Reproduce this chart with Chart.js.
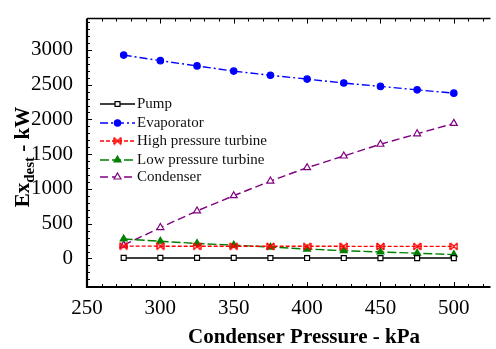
<!DOCTYPE html>
<html><head><meta charset="utf-8">
<script src="https://cdn.jsdelivr.net/npm/chart.js@4"></script>
<style>html,body{margin:0;padding:0;background:#fff}#wrap{width:496px;height:349px}</style>
</head><body><div id="wrap"><canvas id="c" width="496" height="349"></canvas></div>
<script>
const pressure = [275,300,325,350,375,400,425,450,475,500];
const pump = [8,8,8,8,7,7,7,6,6,6];
const evaporator = [2925,2845,2770,2695,2635,2580,2523,2475,2425,2378];
const hpTurbine = [178,177,176,176,175,175,175,174,174,174];
const lpTurbine = [281,248,216,192,164,136,112,94,76,56];
const condenser = [192,445,684,903,1114,1306,1474,1643,1793,1943];
const xTicks = [250,300,350,400,450,500];
const yTicks = [0,500,1000,1500,2000,2500,3000];
const seriesNames = ['Pump','Evaporator','High pressure turbine','Low pressure turbine','Condenser'];

const serif = "'Liberation Serif','DejaVu Serif',serif";
const pts = arr => pressure.map((x,i)=>({x, y: arr[i]}));

// bow-tie marker for the high pressure turbine
const bowtie = document.createElement('canvas');
bowtie.width = 9; bowtie.height = 9;
(() => {
  const c = bowtie.getContext('2d');
  c.strokeStyle = '#ff0000'; c.lineWidth = 1.4;
  c.beginPath();
  c.moveTo(1,1); c.lineTo(8,8); c.moveTo(8,1); c.lineTo(1,8);
  c.moveTo(1,1); c.lineTo(1,8); c.moveTo(8,1); c.lineTo(8,8);
  c.stroke();
})();

const styles = [
  {color:'#000000', dash:[], ps:'rect', r:3.5, fill:'#ffffff', bw:1.2},
  {color:'#0000ff', dash:[8,3,2,3], ps:'circle', r:3.2, fill:'#0000ff', bw:1.2},
  {color:'#ff0000', dash:[4,2], ps:bowtie, r:4, fill:'#ff0000', bw:1.5},
  {color:'#008000', dash:[9,3], ps:'triangle', r:4, fill:'#008000', bw:1.2},
  {color:'#800080', dash:[8,4], ps:'triangle', r:4, fill:'#ffffff', bw:1.2}
];
const allData = [pump, evaporator, hpTurbine, lpTurbine, condenser];

const datasets = allData.map((d,i)=>({
  label: seriesNames[i],
  data: pts(d),
  borderColor: styles[i].color,
  borderDash: styles[i].dash,
  borderWidth: 1.4,
  pointStyle: styles[i].ps,
  pointRadius: styles[i].r,
  pointBackgroundColor: styles[i].fill,
  pointBorderColor: styles[i].color,
  pointBorderWidth: styles[i].bw,
  tension: 0,
  fill: false
}));

const framePlugin = {
  id: 'frame',
  afterDraw(chart) {
    const ctx = chart.ctx, a = chart.chartArea;
    const xs = chart.scales.x, ys = chart.scales.y;
    ctx.save();
    ctx.strokeStyle = '#000';
    ctx.setLineDash([]);
    ctx.lineWidth = 2.2;
    ctx.beginPath();
    ctx.moveTo(a.left, a.top); ctx.lineTo(a.left, a.bottom); ctx.lineTo(a.right, a.bottom);
    ctx.stroke();
    ctx.lineWidth = 1.5;
    ctx.beginPath(); ctx.moveTo(a.left, a.top); ctx.lineTo(a.right, a.top); ctx.stroke();
    ctx.lineWidth = 1;
    for (let v = 250; v <= 525; v += 10) {
      const px = Math.round(xs.getPixelForValue(v)) + 0.5;
      if (px <= a.left + 1 || px > a.right) continue;
      const major = (v % 50 === 0);
      const len = major ? 5 : 3;
      ctx.beginPath();
      ctx.moveTo(px, a.bottom); ctx.lineTo(px, a.bottom - len);
      ctx.moveTo(px, a.top); ctx.lineTo(px, a.top + len);
      ctx.stroke();
    }
    for (let v = -400; v <= 3400; v += 100) {
      const py = Math.round(ys.getPixelForValue(v)) + 0.5;
      if (py >= a.bottom - 1 || py < a.top) continue;
      const major = (v % 500 === 0);
      const len = major ? 5 : 3;
      ctx.beginPath(); ctx.moveTo(a.left, py); ctx.lineTo(a.left + len, py); ctx.stroke();
    }
    const lx0 = 100, lx1 = 135, tx = 137;
    const rows = [104, 123, 141, 160, 177];
    ctx.font = "15px " + serif;
    ctx.textBaseline = 'middle';
    ctx.textAlign = 'left';
    seriesNames.forEach((name,i)=>{
      const s = styles[i], y = rows[i];
      ctx.strokeStyle = s.color; ctx.lineWidth = 1.4; ctx.setLineDash(s.dash);
      ctx.beginPath(); ctx.moveTo(lx0, y); ctx.lineTo(lx1, y); ctx.stroke();
      ctx.setLineDash([]);
      ctx.fillStyle = s.fill; ctx.lineWidth = s.bw; ctx.strokeStyle = s.color;
      Chart.helpers.drawPoint(ctx, {pointStyle: s.ps, radius: s.r, borderWidth: s.bw}, (lx0+lx1)/2, y);
      ctx.fillStyle = '#111';
      ctx.fillText(name, tx, y);
    });
    ctx.fillStyle = '#000';
    ctx.font = "bold 21px " + serif;
    ctx.textAlign = 'center';
    ctx.fillText('Condenser Pressure - kPa', 304, 338);
    ctx.translate(22, 157);
    ctx.rotate(-Math.PI/2);
    const f1 = "bold 21px " + serif, f2 = "bold 15px " + serif;
    ctx.font = f1; const w1 = ctx.measureText('Ex').width;
    ctx.font = f2; const w2 = ctx.measureText('dest').width;
    ctx.font = f1; const w3 = ctx.measureText(' - kW').width;
    let x = -(w1+w2+w3)/2;
    ctx.textAlign = 'left'; ctx.textBaseline = 'alphabetic';
    ctx.font = f1; ctx.fillText('Ex', x, 7); x += w1;
    ctx.font = f2; ctx.fillText('dest', x, 12); x += w2;
    ctx.font = f1; ctx.fillText(' - kW', x, 7);
    ctx.restore();
  }
};

new Chart(document.getElementById('c'), {
  type: 'line',
  data: { datasets },
  options: {
    responsive: false,
    animation: false,
    layout: { padding: { top: 11, right: 0, left: 0, bottom: 0 } },
    plugins: { legend: { display: false }, tooltip: { enabled: false } },
    scales: {
      x: {
        type: 'linear', min: 250, max: 525,
        afterBuildTicks: s => { s.ticks = xTicks.map(v=>({value:v})); },
        afterFit: s => { s.height = 62; },
        grid: { display: false }, border: { display: false },
        ticks: { font: { family: serif, size: 21 }, color: '#000', padding: 1, maxRotation: 0,
                 callback: v => String(v) }
      },
      y: {
        type: 'linear', min: -410, max: 3450,
        afterBuildTicks: s => { s.ticks = yTicks.map(v=>({value:v})); },
        afterFit: s => { s.width = 87; },
        grid: { display: false }, border: { display: false },
        ticks: { font: { family: serif, size: 21 }, color: '#000', padding: 6,
                 callback: v => String(v) }
      }
    }
  },
  plugins: [framePlugin]
});
</script></body></html>
